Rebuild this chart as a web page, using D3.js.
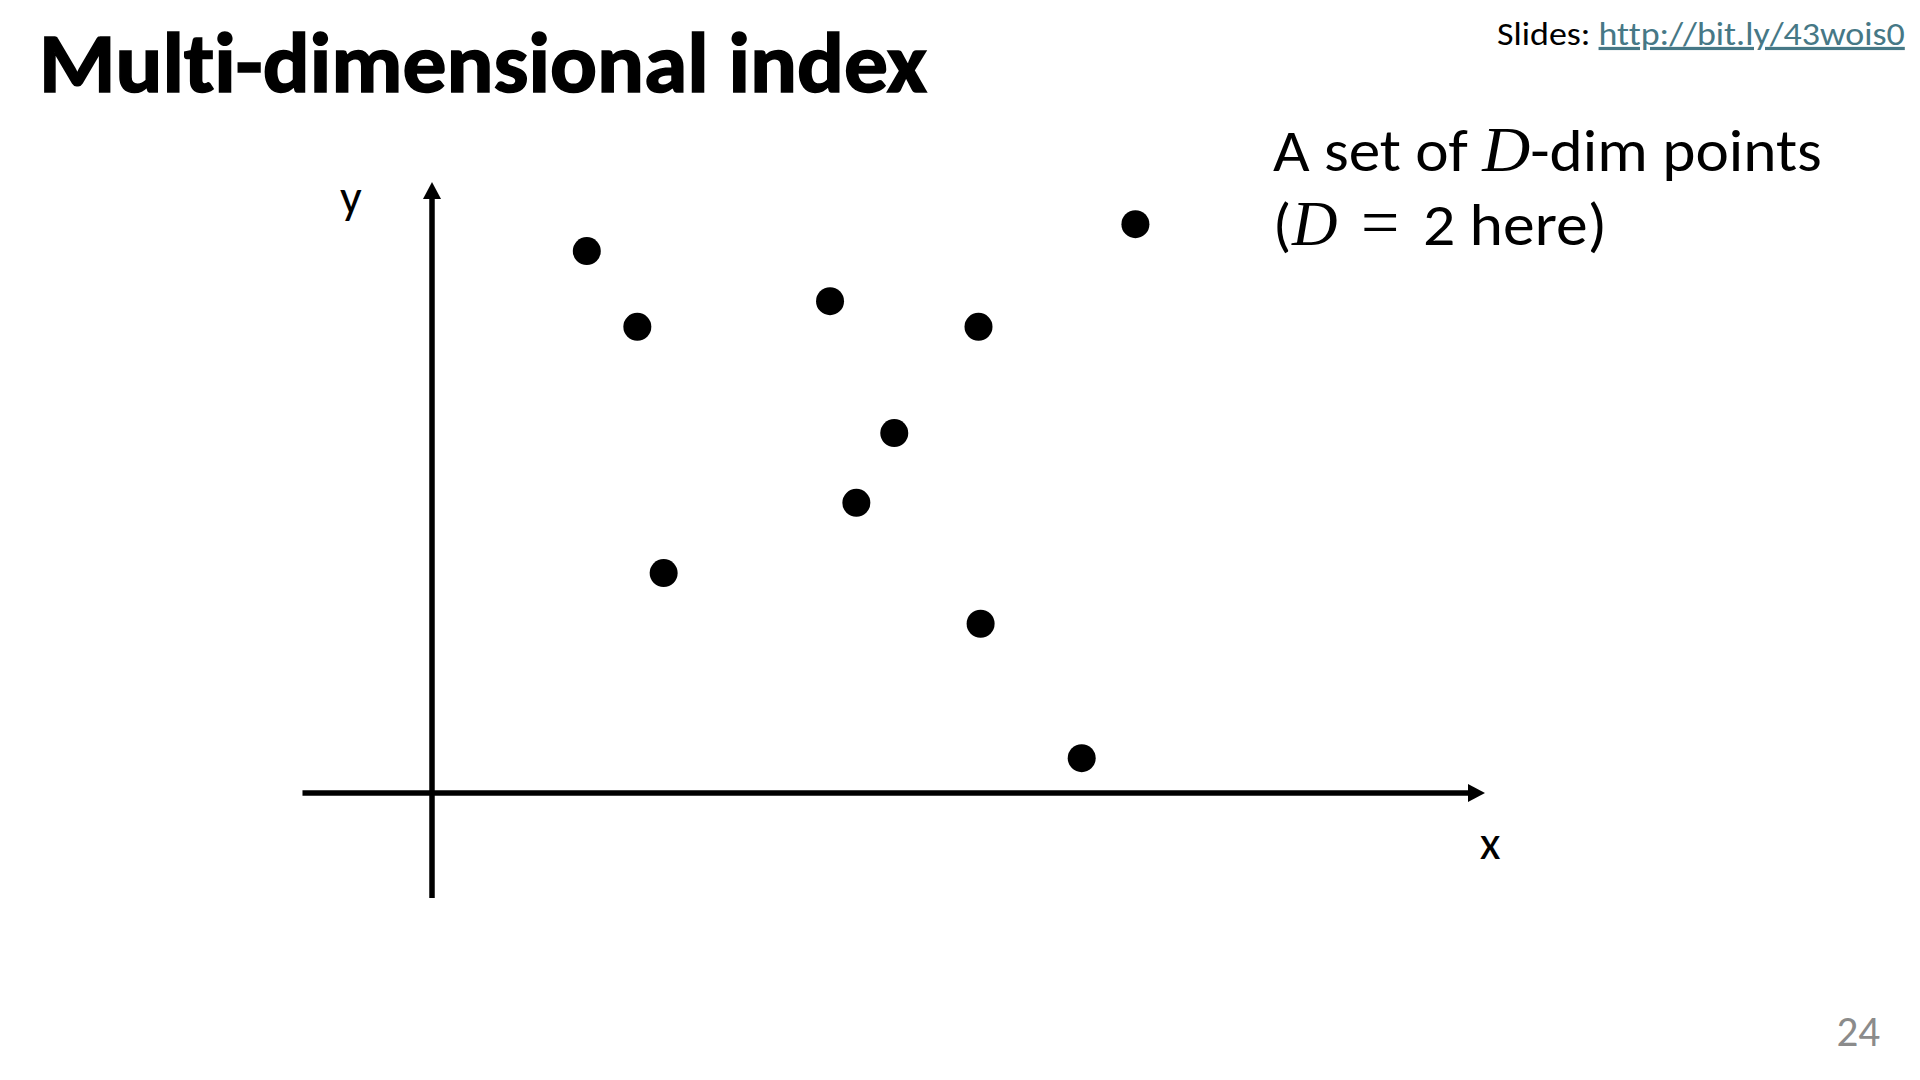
<!DOCTYPE html>
<html>
<head>
<meta charset="utf-8">
<script src="https://cdn.jsdelivr.net/npm/d3@7"></script>
<style>
  body { margin: 0; background: #fff; }
  svg { display: block; }
  text { font-family: Carlito, Lato, "Open Sans", sans-serif; font-variant-ligatures: none; }
</style>
</head>
<body>
<svg id="slide" width="1920" height="1080"></svg>
<script>
// points of the 2-dim set (arbitrary units, origin at the axes crossing)
var pointX = [1.47, 1.95, 3.78, 5.19, 6.68, 4.39, 4.03, 2.20, 5.21, 6.17];
var pointY = [8.87, 7.63, 8.05, 7.63, 9.31, 5.89, 4.75, 3.60, 2.77, 0.57];
var xExtent = [-1.23, 10];
var yExtent = [-1.72, 10];

var svg = d3.select("svg#slide"),
    width = +svg.attr("width"),
    height = +svg.attr("height");

// scales: 0 is where the axes cross, 10 is the arrow tip
var x = d3.scaleLinear().domain([0, 10]).range([432, 1485]);
var y = d3.scaleLinear().domain([0, 10]).range([793, 182]);

var arrowLen = 17, arrowW = 18;

svg.append("defs").append("marker")
    .attr("id", "arrow")
    .attr("markerUnits", "userSpaceOnUse")
    .attr("viewBox", "0 0 " + arrowLen + " " + arrowW)
    .attr("markerWidth", arrowLen)
    .attr("markerHeight", arrowW)
    .attr("refX", 1)
    .attr("refY", arrowW / 2)
    .attr("orient", "auto")
  .append("path")
    .attr("d", "M0,0L" + arrowLen + "," + (arrowW / 2) + "L0," + arrowW + "Z")
    .attr("fill", "#000");

// shrink or stretch a text horizontally so it fits the width seen on the slide
function fitWidth(sel, x0, y0, w) {
    var bw = sel.node().getBBox().width;
    sel.attr("transform", "translate(" + x0 + "," + y0 + ") scale(" + (w / bw) + ",1)");
}

// axes
var axes = svg.append("g")
    .attr("stroke", "#000")
    .attr("stroke-width", 5.5)
    .attr("fill", "none");

axes.append("line")
    .attr("x1", x(xExtent[0]))
    .attr("x2", x(xExtent[1]) - arrowLen + 1)
    .attr("y1", y(0))
    .attr("y2", y(0))
    .attr("marker-end", "url(#arrow)");

axes.append("line")
    .attr("x1", x(0))
    .attr("x2", x(0))
    .attr("y1", y(yExtent[0]))
    .attr("y2", y(yExtent[1]) + arrowLen - 1)
    .attr("marker-end", "url(#arrow)");

svg.append("text")
    .attr("x", x(-0.77))
    .attr("y", 213)
    .attr("text-anchor", "middle")
    .attr("font-size", 48)
    .text("y");

svg.append("text")
    .attr("x", x(10.05))
    .attr("y", 859)
    .attr("text-anchor", "middle")
    .attr("font-size", 48)
    .text("x");

// points
svg.append("g")
    .selectAll("circle")
    .data(d3.range(pointX.length))
    .enter()
    .append("circle")
    .attr("cx", function (i) { return x(pointX[i]); })
    .attr("cy", function (i) { return y(pointY[i]); })
    .attr("r", 14)
    .attr("fill", "#000");

// title
var title = svg.append("text")
    .attr("font-size", 85)
    .attr("font-weight", 700)
    .attr("stroke", "#000")
    .attr("stroke-width", 1.6)
    .text("Multi-dimensional index");
fitWidth(title, 39, 92, 888);

// slides link
var slides = svg.append("text")
    .attr("font-size", 32);
slides.append("tspan").attr("fill", "#000").text("Slides: ");
slides.append("tspan")
    .attr("fill", "#467886")
    .attr("text-decoration", "underline")
    .text("http://bit.ly/43wois0");
fitWidth(slides, 1497, 45, 408);

var mathFont = "'Liberation Serif', 'DejaVu Serif', serif";

// description
var line1 = svg.append("text").attr("font-size", 60);
line1.append("tspan").text("A set of ");
line1.append("tspan")
    .attr("font-family", mathFont)
    .attr("font-style", "italic")
    .attr("font-size", 63)
    .text("D");
line1.append("tspan").text("-dim points");
fitWidth(line1, 1273, 171, 549);

// second line: "(D = 2 here)"
var line2 = svg.append("text").attr("font-size", 60).attr("y", 245);
line2.append("tspan").attr("x", 1273).text("(");
line2.append("tspan")
    .attr("x", 1292)
    .attr("font-family", mathFont)
    .attr("font-style", "italic")
    .attr("font-size", 63)
    .text("D");
line2.append("tspan")
    .attr("x", 1361)
    .attr("font-family", mathFont)
    .attr("font-size", 68)
    .text("=");

var line2b = svg.append("text").attr("font-size", 60).text("2 here)");
fitWidth(line2b, 1423, 245, 184);

// page number
svg.append("text")
    .attr("x", 1880)
    .attr("y", 1046)
    .attr("text-anchor", "end")
    .attr("font-size", 43)
    .attr("fill", "#8b8b8b")
    .text("24");
</script>
</body>
</html>
